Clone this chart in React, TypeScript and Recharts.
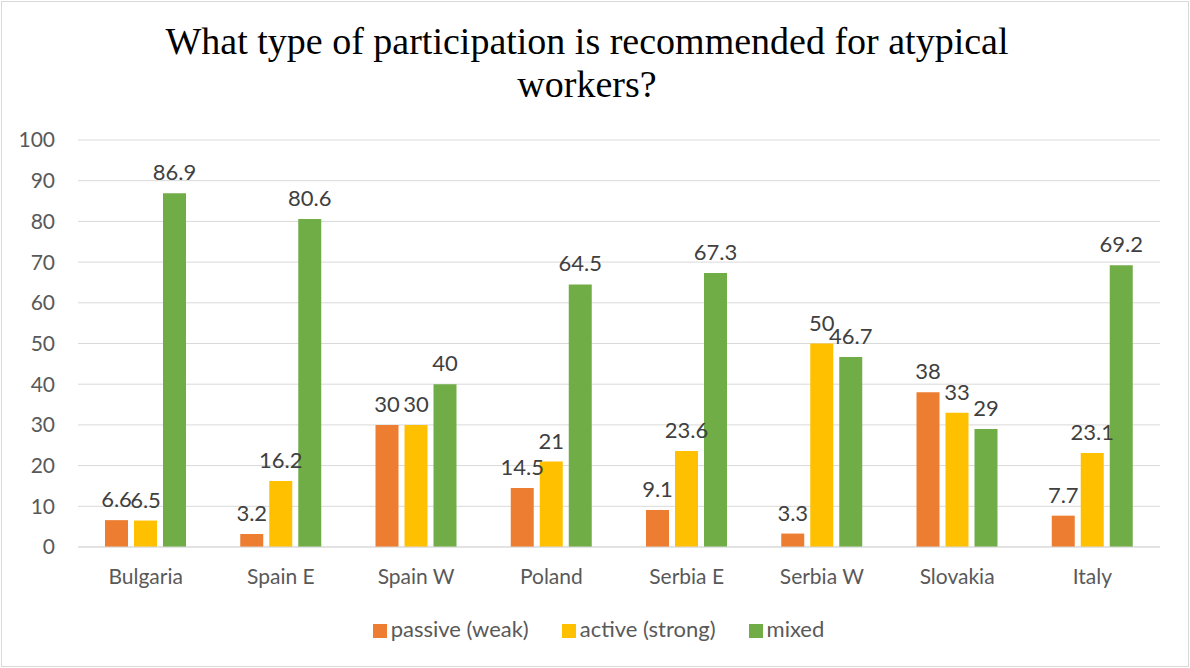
import { BarChart, Bar, XAxis, YAxis, CartesianGrid, Legend, LabelList } from 'recharts';

const countries = ['Bulgaria', 'Spain E', 'Spain W', 'Poland', 'Serbia E', 'Serbia W', 'Slovakia', 'Italy'];
const passive = [6.6, 3.2, 30, 14.5, 9.1, 3.3, 38, 7.7];
const active = [6.5, 16.2, 30, 21, 23.6, 50, 33, 23.1];
const mixed = [86.9, 80.6, 40, 64.5, 67.3, 46.7, 29, 69.2];
const yTicks = [0, 10, 20, 30, 40, 50, 60, 70, 80, 90, 100];

const data = countries.map((c, i) => ({
  country: c,
  passive: passive[i],
  active: active[i],
  mixed: mixed[i],
}));

const FONT = 'Lato, "Open Sans", sans-serif';
const labelStyle = { fill: '#404040', fontSize: 22, fontFamily: FONT };

export default function App() {
  return (
    <div style={{ position: 'fixed', left: 0, top: 0, width: 1190, height: 668, background: '#fff' }}>
      <div
        style={{
          position: 'absolute',
          left: 1,
          top: 1,
          width: 1186,
          height: 664,
          border: '1px solid #d9d9d9',
        }}
      />
      <div
        style={{
          position: 'absolute',
          left: -8,
          top: 20,
          width: 1190,
          textAlign: 'center',
          fontFamily: '"Liberation Serif", serif',
          fontSize: 38,
          lineHeight: '43px',
          color: '#000',
        }}
      >
        What type of participation is recommended for atypical
        <br />
        workers?
      </div>
      <div style={{ position: 'absolute', left: 0, top: 0 }}>
        <BarChart
          width={1190}
          height={668}
          data={data}
          margin={{ top: 140, right: 30, left: 0, bottom: 26 }}
          barGap={6}
          barCategoryGap={27}
        >
          <CartesianGrid vertical={false} stroke="#d9d9d9" />
          <XAxis
            dataKey="country"
            axisLine={{ stroke: '#d9d9d9' }}
            tickLine={false}
            height={68}
            tickMargin={16}
            tick={{ fill: '#595959', fontSize: 21, fontFamily: FONT }}
          />
          <YAxis
            domain={[0, 100]}
            ticks={yTicks}
            width={78}
            axisLine={false}
            tickLine={false}
            tickSize={0}
            tickMargin={23}
            tick={{ fill: '#595959', fontSize: 21, fontFamily: FONT }}
          />
          <Legend
            verticalAlign="bottom"
            iconType="square"
            iconSize={14}
            itemSorter={null}
            wrapperStyle={{ fontFamily: FONT, fontSize: 22, paddingLeft: 35 }}
            formatter={(v) => <span style={{ color: '#595959', marginRight: 23 }}>{v}</span>}
          />
          <Bar dataKey="passive" name="passive (weak)" fill="#ED7D31" isAnimationActive={false}>
            <LabelList dataKey="passive" position="top" offset={13} style={labelStyle} />
          </Bar>
          <Bar dataKey="active" name="active (strong)" fill="#FFC000" isAnimationActive={false}>
            <LabelList dataKey="active" position="top" offset={13} style={labelStyle} />
          </Bar>
          <Bar dataKey="mixed" name="mixed" fill="#70AD47" isAnimationActive={false}>
            <LabelList dataKey="mixed" position="top" offset={13} style={labelStyle} />
          </Bar>
        </BarChart>
      </div>
    </div>
  );
}
